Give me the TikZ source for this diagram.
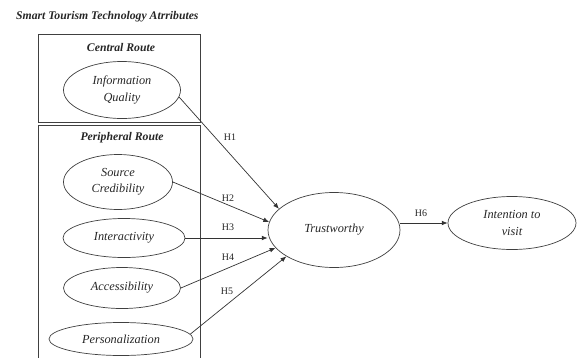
\documentclass[tikz,border=0pt]{standalone}
\usepackage{fontspec}
\setmainfont{Liberation Serif}
\usetikzlibrary{shapes.geometric,arrows.meta}

\begin{document}
\begin{tikzpicture}[x=0.03cm, y=-0.03cm,
	every node/.style={text=black!85, font=\fontsize{10.5}{14}\selectfont\itshape},
	construct/.style={ellipse, draw=black!75, line width=0.6pt, inner sep=0pt, align=center},
	route/.style={font=\fontsize{10}{12}\selectfont\bfseries\itshape},
	hyp/.style={font=\fontsize{8.5}{10}\selectfont\upshape},
	routebox/.style={draw=black!75, line width=0.6pt},
	link/.style={draw=black!80, line width=0.6pt, -{Latex[length=5pt,width=4pt]}}]

	\useasboundingbox (0,0) rectangle (578,358);

	\node[route, anchor=west] (title) at (12,17) {Smart Tourism Technology Atrributes};

	% routes
	\draw[routebox] (38,34) rectangle (200,122);
	\draw[routebox] (38,358) -- (38,125) -- (200,125) -- (200,358);
	\node[route] (central) at (121,48) {Central Route};
	\node[route] (peripheral) at (122,138) {Peripheral Route};

	% constructs
	\node[construct, minimum width=3.51cm, minimum height=1.71cm] (iq) at (122,90) {Information\\Quality};
	\node[construct, minimum width=3.27cm, minimum height=1.65cm] (sc) at (118,182) {Source\\Credibility};
	\node[construct, minimum width=3.66cm, minimum height=1.17cm] (ia) at (124,238) {Interactivity};
	\node[construct, minimum width=3.51cm, minimum height=1.23cm] (ac) at (122,288) {Accessibility};
	\node[construct, minimum width=4.32cm, minimum height=0.99cm] (pz) at (121,339) {Personalization};
	\node[construct, minimum width=3.96cm, minimum height=2.25cm] (tw) at (334,230) {Trustworthy};
	\node[construct, minimum width=3.84cm, minimum height=1.59cm] (iv) at (512,223) {Intention to\\visit};

	% hypotheses
	\draw[link] (iq.-7) -- (tw.159);
	\draw[link] (sc.east) -- (tw.173);
	\draw[link] (ia.east) -- (ia.east -| tw.west);
	\draw[link] (ac.east) -- (tw.197);
	\draw[link] (pz.4) -- (tw.209);
	\draw[link] (iv.west -| tw.east) -- (iv.west);

	\node[hyp] (h1) at (230,137) {H1};
	\node[hyp] (h2) at (228,198) {H2};
	\node[hyp] (h3) at (228,227) {H3};
	\node[hyp] (h4) at (228,257) {H4};
	\node[hyp] (h5) at (227,291) {H5};
	\node[hyp] (h6) at (421,213) {H6};
\end{tikzpicture}
\end{document}
